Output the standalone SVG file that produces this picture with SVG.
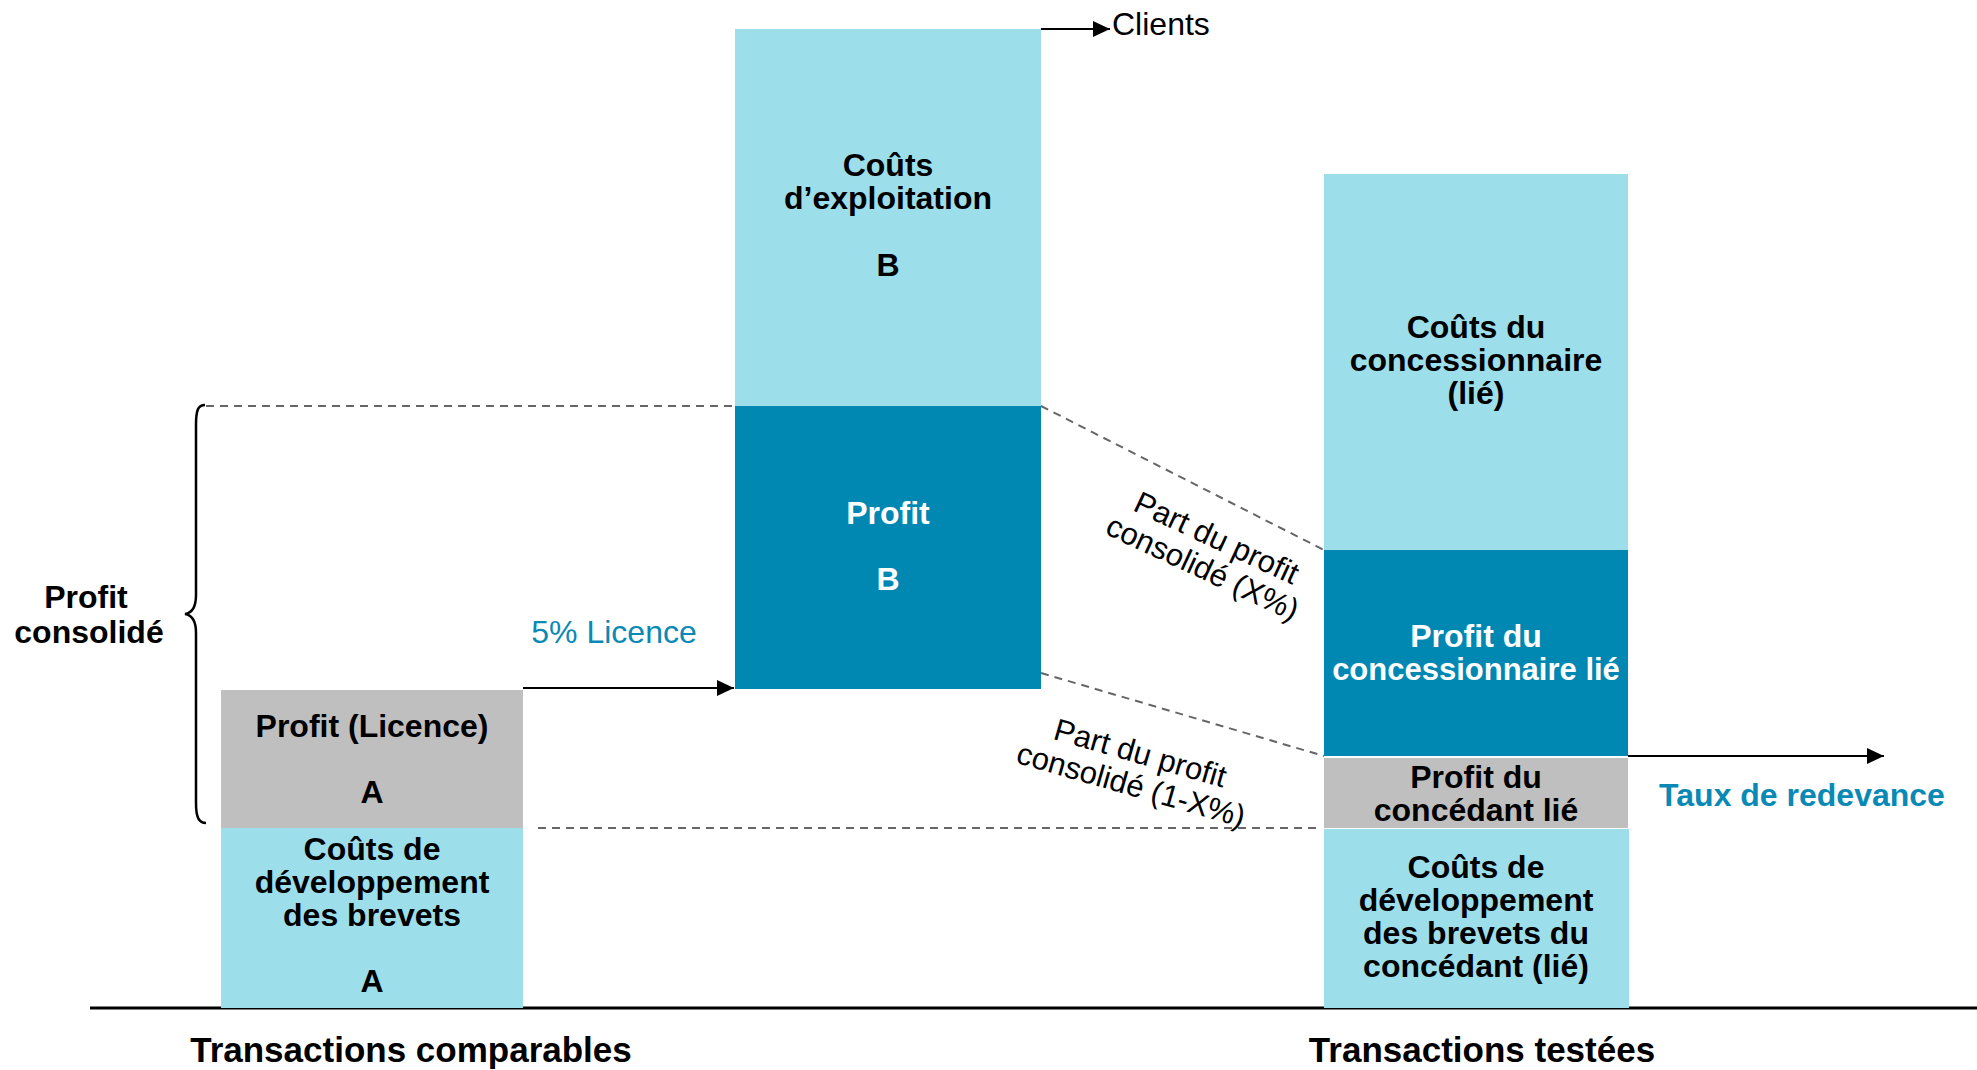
<svg xmlns="http://www.w3.org/2000/svg" width="1977" height="1070" viewBox="0 0 1977 1070">
<defs>
<style>
.t{font-family:"Liberation Sans",Arial,sans-serif;font-size:32px;font-weight:bold;fill:#000;text-anchor:middle}
.w{fill:#fff}
.r{font-family:"Liberation Sans",Arial,sans-serif;font-size:32px;font-weight:normal;fill:#000}
.rot{font-family:"Liberation Sans",Arial,sans-serif;font-size:31px;font-weight:normal;fill:#000;text-anchor:middle}
.blue{fill:#0a89b5}
.lt{fill:#9ddeeb}
.dk{fill:#0088b3}
.gr{fill:#bfbfbf}
.dash{stroke:#666;stroke-width:2;stroke-dasharray:8 6;fill:none}
.arr{stroke:#000;stroke-width:2;fill:none;marker-end:url(#ah)}
</style>
<marker id="ah" markerUnits="userSpaceOnUse" markerWidth="17" markerHeight="16" refX="17" refY="8" orient="auto">
<path d="M0,0 L17,8 L0,16 z" fill="#000"/>
</marker>
</defs>
<rect width="1977" height="1070" fill="#fff"/>

<g id="connectors">
<line class="dash" x1="206" y1="406" x2="735" y2="406"/>
<line class="dash" x1="1041" y1="406" x2="1324" y2="550"/>
<line class="dash" x1="1041" y1="673" x2="1324" y2="756"/>
<line class="dash" x1="538" y1="828" x2="1322" y2="828"/>
<line class="arr" x1="523" y1="688" x2="734" y2="688"/>
<line class="arr" x1="1041" y1="29" x2="1110" y2="29"/>
<line class="arr" x1="1628" y1="756" x2="1884" y2="756"/>
<path d="M205,405 C198,405 196,410 196,425 L196,595 C196,607 192,613 185,614 C192,615 196,621 196,633 L196,803 C196,818 199,823 206,823" stroke="#000" stroke-width="2.5" fill="none"/>
<line x1="90" y1="1008" x2="1977" y2="1008" stroke="#000" stroke-width="3"/>
</g>

<g id="box-b-couts">
<rect class="lt" x="735" y="29" width="306" height="377"/>
<text class="t" x="888" y="176">Coûts</text>
<text class="t" x="888" y="209">d’exploitation</text>
<text class="t" x="888" y="276">B</text>
</g>
<g id="box-b-profit">
<rect class="dk" x="735" y="406" width="306" height="283"/>
<text class="t w" x="888" y="524">Profit</text>
<text class="t w" x="888" y="590">B</text>
</g>

<g id="box-a-profit">
<rect class="gr" x="221" y="690" width="302" height="138"/>
<text class="t" x="372" y="737">Profit (Licence)</text>
<text class="t" x="372" y="803">A</text>
</g>
<g id="box-a-couts">
<rect class="lt" x="221" y="828" width="302" height="180"/>
<text class="t" x="372" y="860">Coûts de</text>
<text class="t" x="372" y="893">développement</text>
<text class="t" x="372" y="926">des brevets</text>
<text class="t" x="372" y="992">A</text>
</g>

<g id="box-c-couts">
<rect class="lt" x="1324" y="174" width="304" height="376"/>
<text class="t" x="1476" y="338">Coûts du</text>
<text class="t" x="1476" y="371">concessionnaire</text>
<text class="t" x="1476" y="404">(lié)</text>
</g>
<g id="box-c-profit-concessionnaire">
<rect class="dk" x="1324" y="550" width="304" height="206"/>
<text class="t w" x="1476" y="647">Profit du</text>
<text class="t w" x="1476" y="680" style="font-size:31px">concessionnaire lié</text>
</g>
<g id="box-c-profit-concedant">
<rect class="gr" x="1324" y="758" width="304" height="70"/>
<text class="t" x="1476" y="788">Profit du</text>
<text class="t" x="1476" y="821">concédant lié</text>
</g>
<g id="box-c-couts-dev">
<rect class="lt" x="1324" y="829" width="305" height="179"/>
<text class="t" x="1476" y="878">Coûts de</text>
<text class="t" x="1476" y="911">développement</text>
<text class="t" x="1476" y="944">des brevets du</text>
<text class="t" x="1476" y="977">concédant (lié)</text>
</g>

<g id="labels">
<text class="r" x="1112" y="35">Clients</text>
<text class="t" x="86" y="608">Profit</text>
<text class="t" x="89" y="643">consolidé</text>
<text class="r blue" x="614" y="643" style="text-anchor:middle">5% Licence</text>
<text class="t blue" x="1802" y="806">Taux de redevance</text>
<g transform="translate(1210,552) rotate(25)">
<text class="rot" x="0" y="-5">Part du profit</text>
<text class="rot" x="0" y="28">consolidé (X%)</text>
</g>
<g transform="translate(1136,768) rotate(16)">
<text class="rot" x="0" y="-5">Part du profit</text>
<text class="rot" x="0" y="28">consolidé (1-X%)</text>
</g>
<text class="t" x="411" y="1062" style="font-size:35px">Transactions comparables</text>
<text class="t" x="1482" y="1062" style="font-size:35px">Transactions testées</text>
</g>
</svg>
